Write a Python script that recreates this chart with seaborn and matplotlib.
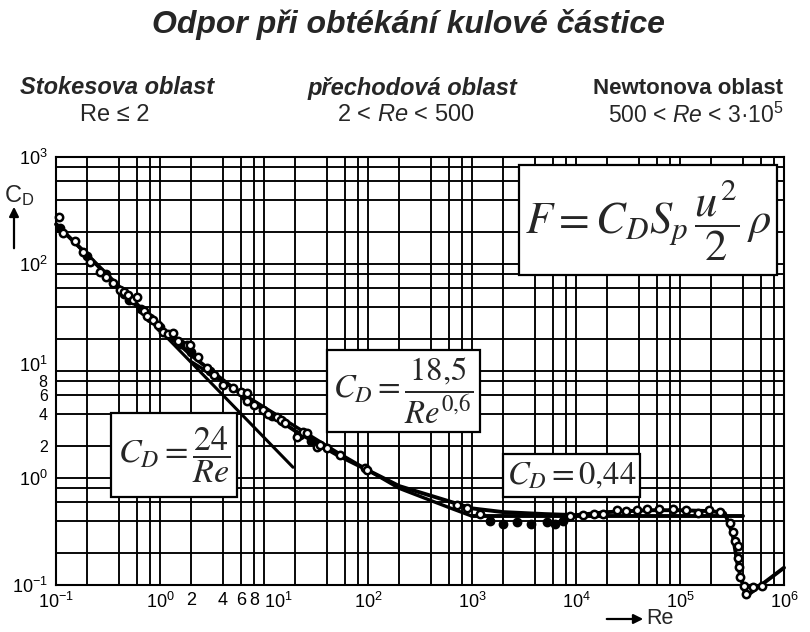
import numpy as np
import pandas as pd
import matplotlib
matplotlib.use("Agg")
import matplotlib.pyplot as plt
from matplotlib.patches import Rectangle, FancyArrowPatch
from matplotlib.ticker import NullLocator
from matplotlib.transforms import ScaledTranslation
import seaborn as sns

# ---------------- data ----------------
curve_re = [0.1, 0.2, 0.5, 1.0, 2.0, 5.0, 10, 20, 50, 100, 200, 500, 1000, 2000,
            5000, 1e4, 2e4, 5e4, 1e5, 2e5, 2.7e5, 3.2e5, 3.6e5, 4.3e5, 1e6]
curve_cd = [235, 122, 50, 26, 14, 7.0, 4.3, 2.75, 1.65, 1.18, 0.84, 0.64, 0.52, 0.48,
            0.46, 0.45, 0.48, 0.50, 0.50, 0.49, 0.47, 0.30, 0.15, 0.078, 0.145]

transition_re = [2, 10, 50, 200, 600, 1000]
transition_cd = [12.2, 4.6, 1.75, 0.80, 0.53, 0.44]

stokes_re = [0.1, 19]
stokes_cd = [240, 1.26]

newton_re = [1000, 4.0e5]
newton_cd = [0.44, 0.44]

meas_re = [0.107, 0.117, 0.152, 0.18, 0.212, 0.265, 0.30, 0.35, 0.41, 0.45, 0.49,
           0.55, 0.60, 0.70, 0.75, 0.85, 0.95, 1.07, 1.2, 1.33, 1.5, 1.8, 1.94,
           2.3, 2.83, 3.3, 4.04, 5.0, 6.0, 6.9, 6.9, 8.0, 9.8, 11, 13.3, 14.5, 16,
           20.8, 23.7, 25.9, 32.4, 34.5, 40, 53.7, 93, 98, 718, 894, 1194,
           8700, 11600, 15000, 18000, 25000, 30000, 39000, 48000, 63000, 85000,
           1.15e5, 1.5e5, 1.9e5, 2.4e5, 3.0e5, 3.2e5, 3.4e5, 3.6e5, 3.6e5, 3.7e5,
           3.8e5, 4.1e5, 4.3e5, 5.0e5, 6.1e5]
meas_cd = [275, 195, 164, 129, 104, 84, 75, 66, 57, 55, 51,
           46, 49, 36, 33, 30, 27, 23, 22, 22.6, 19, 17.4, 17.5,
           13.5, 10.7, 9.2, 7.4, 6.9, 6.4, 6.2, 5.3, 4.8, 4.3, 4.0, 3.7, 3.5, 3.3,
           2.41, 2.69, 2.65, 1.95, 2.03, 1.9, 1.64, 1.24, 1.19, 0.56, 0.53, 0.46,
           0.44, 0.45, 0.46, 0.46, 0.50, 0.49, 0.50, 0.51, 0.51, 0.51,
           0.50, 0.47, 0.50, 0.48, 0.38, 0.31, 0.26, 0.23, 0.18, 0.147,
           0.119, 0.097, 0.082, 0.096, 0.097]

dark_re = [0.11, 0.2, 0.3, 0.45, 0.5, 0.65, 0.8, 1.0, 1.3, 1.6, 2.0, 3.0, 6.5, 12, 15, 22, 28,
           1500, 2000, 2700, 3660, 5300, 6300, 7500]
dark_cd = [215, 118, 80, 52, 46, 38, 31, 26, 21, 18, 15, 10, 5.8, 3.8, 3.4, 2.5, 2.2,
           0.40, 0.37, 0.39, 0.37, 0.39, 0.37, 0.40]

x_grid = [0.1, 0.2, 0.4, 0.6, 0.8, 1, 2, 4, 6, 8, 10, 20, 40, 60, 80, 100, 200, 400, 600, 800,
          1e3, 2e3, 4e3, 6e3, 8e3, 1e4, 2e4, 4e4, 6e4, 8e4, 1e5, 2e5, 4e5, 6e5, 8e5, 1e6]
x_labels = {0.1: r"$\mathregular{10^{-1}}$", 1: r"$\mathregular{10^{0}}$", 2: "2", 4: "4",
            6: "6", 8: "8", 10: r"$\mathregular{10^{1}}$", 100: r"$\mathregular{10^{2}}$",
            1e3: r"$\mathregular{10^{3}}$", 1e4: r"$\mathregular{10^{4}}$",
            1e5: r"$\mathregular{10^{5}}$", 1e6: r"$\mathregular{10^{6}}$"}
y_grid = [0.1, 0.2, 0.4, 0.6, 0.8, 1, 2, 4, 6, 8, 10, 20, 40, 60, 80, 100, 200, 400, 600, 800, 1000]
y_labels = {0.1: r"$\mathregular{10^{-1}}$", 1: r"$\mathregular{10^{0}}$", 2: "2", 4: "4",
            6: "6", 8: "8", 10: r"$\mathregular{10^{1}}$", 100: r"$\mathregular{10^{2}}$",
            1000: r"$\mathregular{10^{3}}$"}

# ---------------- style ----------------
sns.set_style("white")
plt.rcParams["font.family"] = ["Liberation Sans", "DejaVu Sans"]
plt.rcParams["mathtext.fontset"] = "custom"
plt.rcParams["mathtext.rm"] = "Liberation Sans"
plt.rcParams["mathtext.it"] = "Liberation Sans:italic"
plt.rcParams["mathtext.bf"] = "Liberation Sans:bold"

W, H = 810, 632
fig = plt.figure(figsize=(W / 100, H / 100), dpi=100)
ax = fig.add_axes([56 / W, 1 - 585 / H, (784 - 56) / W, (585 - 157) / H])


def fx(px):
    return px / W


def fy(py):
    return 1 - py / H


curve_df = pd.DataFrame({"Re": curve_re, "CD": curve_cd})
trans_df = pd.DataFrame({"Re": transition_re, "CD": transition_cd})
stokes_df = pd.DataFrame({"Re": stokes_re, "CD": stokes_cd})
newton_df = pd.DataFrame({"Re": newton_re, "CD": newton_cd})
meas_df = pd.DataFrame({"Re": meas_re, "CD": meas_cd})
dark_df = pd.DataFrame({"Re": dark_re, "CD": dark_cd})

ax.set_xscale("log")
ax.set_yscale("log")

sns.lineplot(data=stokes_df, x="Re", y="CD", ax=ax, color="black", lw=2.2,
             sort=False, estimator=None, zorder=3)
sns.lineplot(data=trans_df, x="Re", y="CD", ax=ax, color="black", lw=2.4,
             sort=False, estimator=None, zorder=3)
sns.lineplot(data=newton_df, x="Re", y="CD", ax=ax, color="black", lw=2.8,
             sort=False, estimator=None, zorder=3)
sns.lineplot(data=curve_df, x="Re", y="CD", ax=ax, color="black", lw=2.8,
             sort=False, estimator=None, zorder=3, clip_on=False)
sns.scatterplot(data=dark_df, x="Re", y="CD", ax=ax, marker="o", s=34,
                facecolor="black", edgecolor="black", linewidth=1.2, zorder=4)
sns.scatterplot(data=meas_df, x="Re", y="CD", ax=ax, marker="o", s=28,
                facecolor="white", edgecolor="black", linewidth=1.8, zorder=4,
                clip_on=False)

ax.set_xlim(0.1, 1e6)
ax.set_ylim(0.1, 1000)
ax.set_xticks(x_grid)
ax.set_xticklabels([x_labels.get(v, "") for v in x_grid])
ax.set_yticks(y_grid)
ax.set_yticklabels([y_labels.get(v, "") for v in y_grid])
ax.xaxis.set_minor_locator(NullLocator())
ax.yaxis.set_minor_locator(NullLocator())
ax.tick_params(axis="both", length=0, labelsize=13, colors="black")
ax.tick_params(axis="x", pad=5)
ax.tick_params(axis="y", pad=6)
for lbl in ax.get_xticklabels():
    if lbl.get_text() == r"$\mathregular{10^{1}}$":
        lbl.set_ha("left")
for lbl in ax.get_yticklabels():
    t = lbl.get_text()
    if t in ("8", "6", "4", "2"):
        lbl.set_fontsize(11.5)
    if t == r"$\mathregular{10^{1}}$":
        lbl.set_transform(lbl.get_transform() + ScaledTranslation(0, 5 / 72, fig.dpi_scale_trans))
ax.grid(True, which="major", color="black", lw=1.35)
ax.set_axisbelow(True)
for sp in ax.spines.values():
    sp.set_color("black")
    sp.set_linewidth(1.5)
ax.set_xlabel("")
ax.set_ylabel("")

# ---------------- titles ----------------
fig.text(fx(408), fy(24), "Odpor při obtékání kulové částice", ha="center", va="center",
         fontsize=23, fontweight="bold", fontstyle="italic")
fig.text(fx(117), fy(88), "Stokesova oblast", ha="center", va="center",
         fontsize=17, fontweight="bold", fontstyle="italic")
fig.text(fx(115), fy(115), "Re ≤ 2", ha="center", va="center", fontsize=17)
fig.text(fx(412), fy(88), "přechodová oblast", ha="center", va="center",
         fontsize=17, fontweight="bold", fontstyle="italic")
fig.text(fx(406), fy(115), r"2 < $\mathit{Re}$ < 500", ha="center", va="center", fontsize=17)
fig.text(fx(688), fy(88), "Newtonova oblast", ha="center", va="center",
         fontsize=16, fontweight="bold")
fig.text(fx(696), fy(115), r"500 < $\mathit{Re}$ < 3·10$^{5}$", ha="center", va="center",
         fontsize=16.5)

# axis labels
fig.text(fx(4), fy(196), r"C$_{\mathregular{D}}$", ha="left", va="center", fontsize=17)
fig.add_artist(FancyArrowPatch((fx(14), fy(251)), (fx(14), fy(204)), transform=fig.transFigure,
                               arrowstyle="-|>", mutation_scale=14, color="black", lw=1.6))
fig.text(fx(646), fy(618), "Re", ha="left", va="center", fontsize=15.5)
fig.add_artist(FancyArrowPatch((fx(604), fy(619)), (fx(646), fy(619)), transform=fig.transFigure,
                               arrowstyle="-|>", mutation_scale=14, color="black", lw=1.6))


# ---------------- formula boxes ----------------
def box(x0, y0, x1, y1, text, size):
    fig.add_artist(Rectangle((fx(x0), fy(y1)), (x1 - x0) / W, (y1 - y0) / H,
                             transform=fig.transFigure, facecolor="white",
                             edgecolor="black", lw=1.6, zorder=5))
    fig.text(fx((x0 + x1) / 2), fy((y0 + y1) / 2), text, ha="center", va="center",
             fontsize=size, math_fontfamily="stix", zorder=6)


box(519, 165, 777, 275, r"$F = C_D S_p\,\dfrac{u^2}{2}\,\rho$", 32)
box(327, 350, 480, 432, r"$C_D = \dfrac{18{,}5}{Re^{0{,}6}}$", 23.5)
box(111, 413, 237, 497, r"$C_D = \dfrac{24}{Re}$", 24.5)
box(503, 454, 640, 497, r"$C_D = 0{,}44$", 23.5)

fig.savefig("out.png", dpi=100)
